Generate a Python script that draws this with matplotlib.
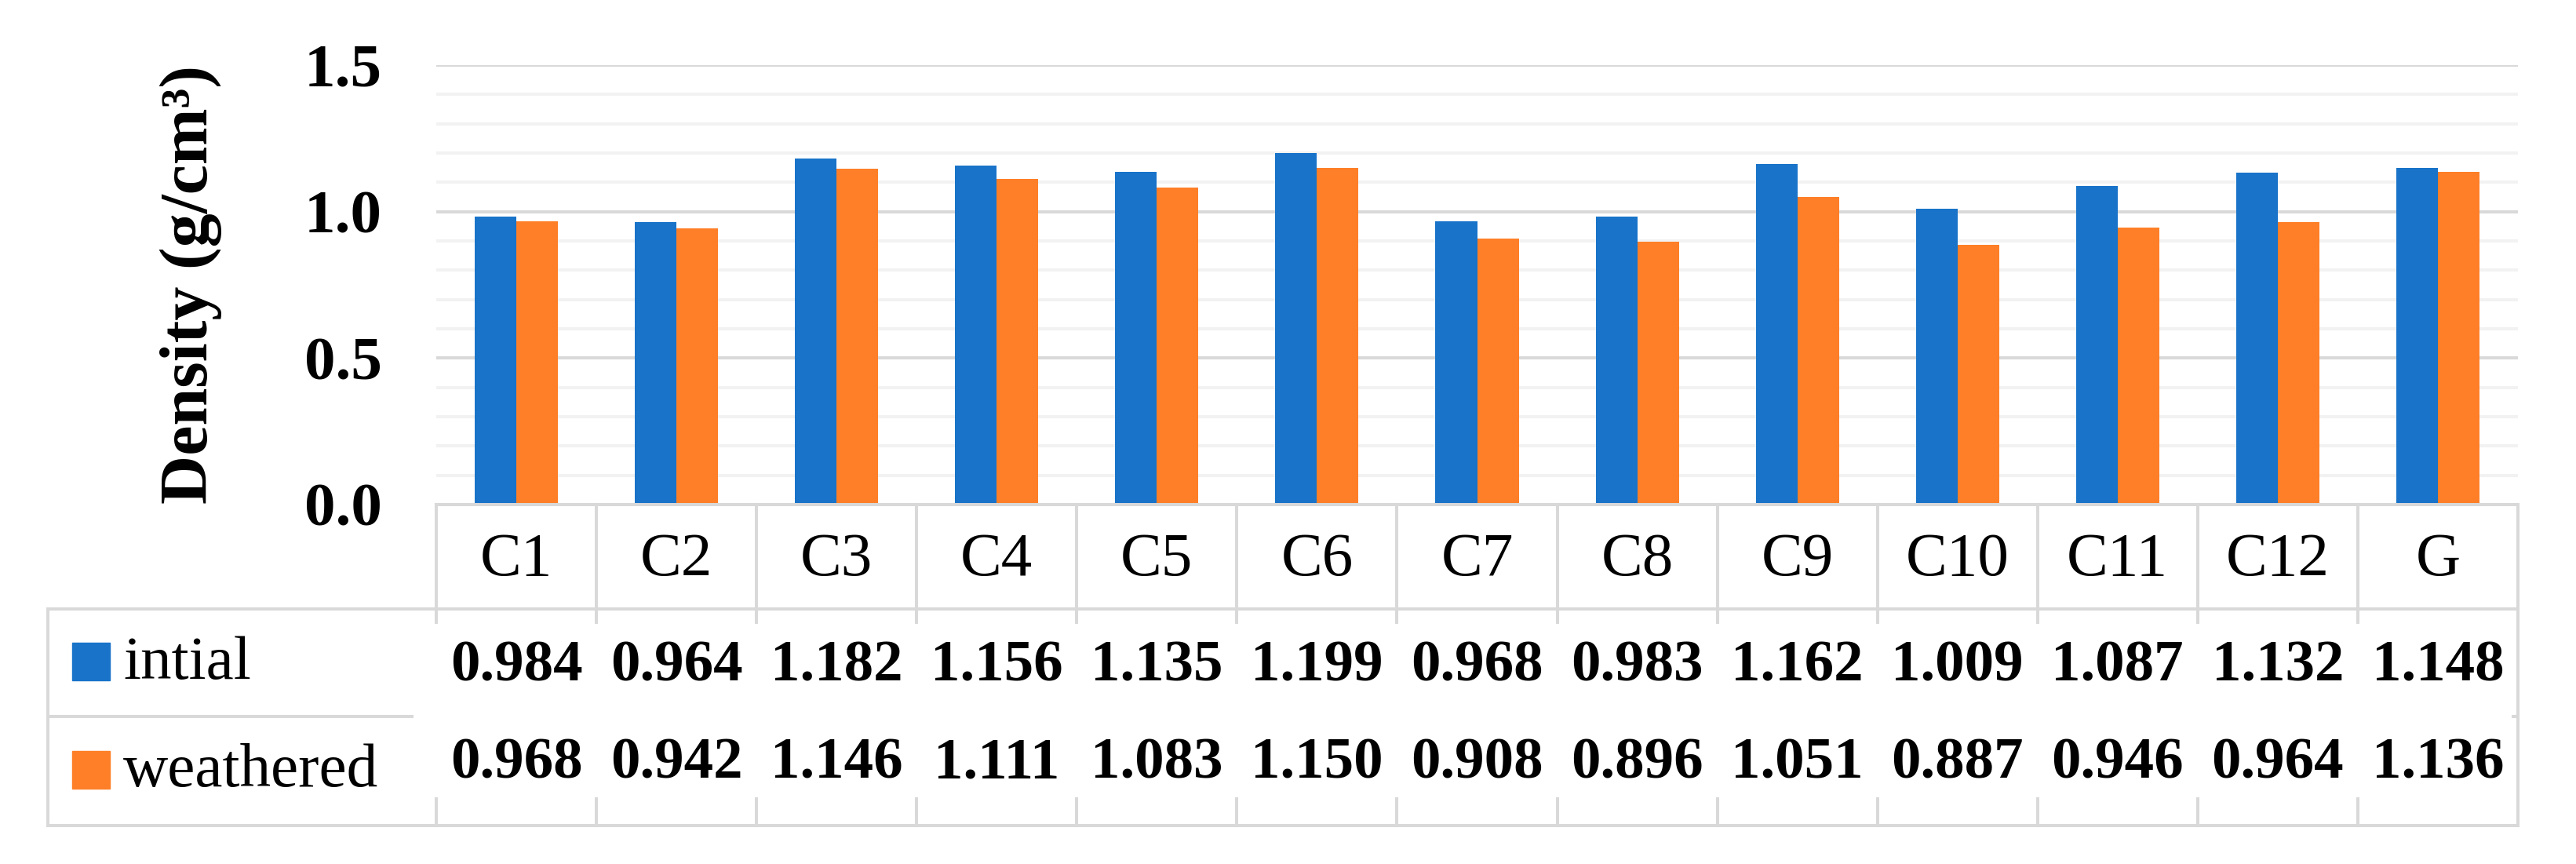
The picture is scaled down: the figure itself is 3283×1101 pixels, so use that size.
import numpy as np
import matplotlib
matplotlib.use("Agg")
import matplotlib.pyplot as plt
from matplotlib.patches import Rectangle

CATS = ["C1", "C2", "C3", "C4", "C5", "C6", "C7", "C8", "C9", "C10", "C11", "C12", "G"]
INITIAL = [0.984, 0.964, 1.182, 1.156, 1.135, 1.199, 0.968, 0.983, 1.162, 1.009, 1.087, 1.132, 1.148]
WEATHERED = [0.968, 0.942, 1.146, 1.111, 1.083, 1.150, 0.908, 0.896, 1.051, 0.887, 0.946, 0.964, 1.136]
SERIES = ["intial", "weathered"]
YTICKS = [0.0, 0.5, 1.0, 1.5]

BLUE, ORANGE = "#1873C9", "#FE7F28"
GRID_MAJ, GRID_MIN, TAB = "#D9D9D9", "#F2F2F2", "#D9D9D9"
FONT = "Liberation Serif"

W, H = 3283, 1101
X0, X1 = 556, 3209          # plot / table column span (px)
YTOP, YBASE = 83, 643       # 1.5 and 0.0 (px from top)
Y_HDR, Y_ROW1, Y_BOT = 776, 913, 1052
X_TAB = 61
LW = 2.9

plt.rcParams["font.family"] = [FONT, "DejaVu Serif"]

fig = plt.figure(figsize=(W / 100, H / 100), dpi=100)
ax = fig.add_axes([X0 / W, 1 - YBASE / H, (X1 - X0) / W, (YBASE - YTOP) / H])

x = np.arange(len(CATS))
bw = 0.26
ax.bar(x - bw / 2, INITIAL, bw, color=BLUE, zorder=3)
ax.bar(x + bw / 2, WEATHERED, bw, color=ORANGE, zorder=3)
ax.set_xlim(-0.5, len(CATS) - 0.5)
ax.set_ylim(0, 1.5)
ax.set_xticks([])
ax.set_yticks(YTICKS)
ax.set_yticklabels([f"{v:.1f}" for v in YTICKS], fontsize=57, fontweight="bold")
ax.set_yticks(np.arange(0, 1.51, 0.1), minor=True)
ax.tick_params(axis="y", which="both", length=0, pad=50)
ax.grid(axis="y", which="major", color=GRID_MAJ, lw=LW, zorder=0)
ax.grid(axis="y", which="minor", color=GRID_MIN, lw=LW, zorder=0)
ax.set_axisbelow(True)
for s in ax.spines.values():
    s.set_visible(False)

fig.text(243 / W, 1 - (YTOP + YBASE) / 2 / H, "Density (g/cm³)", rotation=90,
         ha="center", va="center", fontsize=62, fontweight="bold")

# data table below the plot, drawn on a pixel-space overlay
tab = fig.add_axes([0, 0, 1, 1])
tab.set_xlim(0, W)
tab.set_ylim(H, 0)
tab.axis("off")
colw = (X1 - X0) / len(CATS)
edges = [X0 + k * colw for k in range(len(CATS) + 1)]
kw = dict(color=TAB, lw=LW, solid_capstyle="projecting")
tab.plot([X0, X1], [YBASE, YBASE], **kw)
tab.plot([X_TAB, X1], [Y_HDR, Y_HDR], **kw)
tab.plot([X_TAB, X1], [Y_BOT, Y_BOT], **kw)
tab.plot([X_TAB, X_TAB], [Y_HDR, Y_BOT], **kw)
tab.plot([X1, X1], [YBASE, Y_BOT], **kw)
tab.plot([X_TAB, 525], [Y_ROW1, Y_ROW1], **kw)
tab.plot([X1 - 6, X1], [Y_ROW1, Y_ROW1], **kw)
for e in edges[:-1]:
    tab.plot([e, e], [YBASE, 793], **kw)
    tab.plot([e, e], [1018, Y_BOT], **kw)

for i, c in enumerate(CATS):
    cx = X0 + (i + 0.5) * colw
    tab.text(cx, 733, c, ha="center", va="baseline", fontsize=57)
    tab.text(cx, 867, f"{INITIAL[i]:.3f}", ha="center", va="baseline",
             fontsize=54, fontweight="bold")
    tab.text(cx, 992, f"{WEATHERED[i]:.3f}", ha="center", va="baseline",
             fontsize=54, fontweight="bold")

for name, col, yc, yb in [(SERIES[0], BLUE, 843, 865), (SERIES[1], ORANGE, 981, 1002)]:
    tab.add_patch(Rectangle((92, yc - 24), 48, 48, color=col))
    tab.text(157, yb, name, ha="left", va="baseline", fontsize=57)

fig.savefig("out.png", dpi=100, facecolor="white")
